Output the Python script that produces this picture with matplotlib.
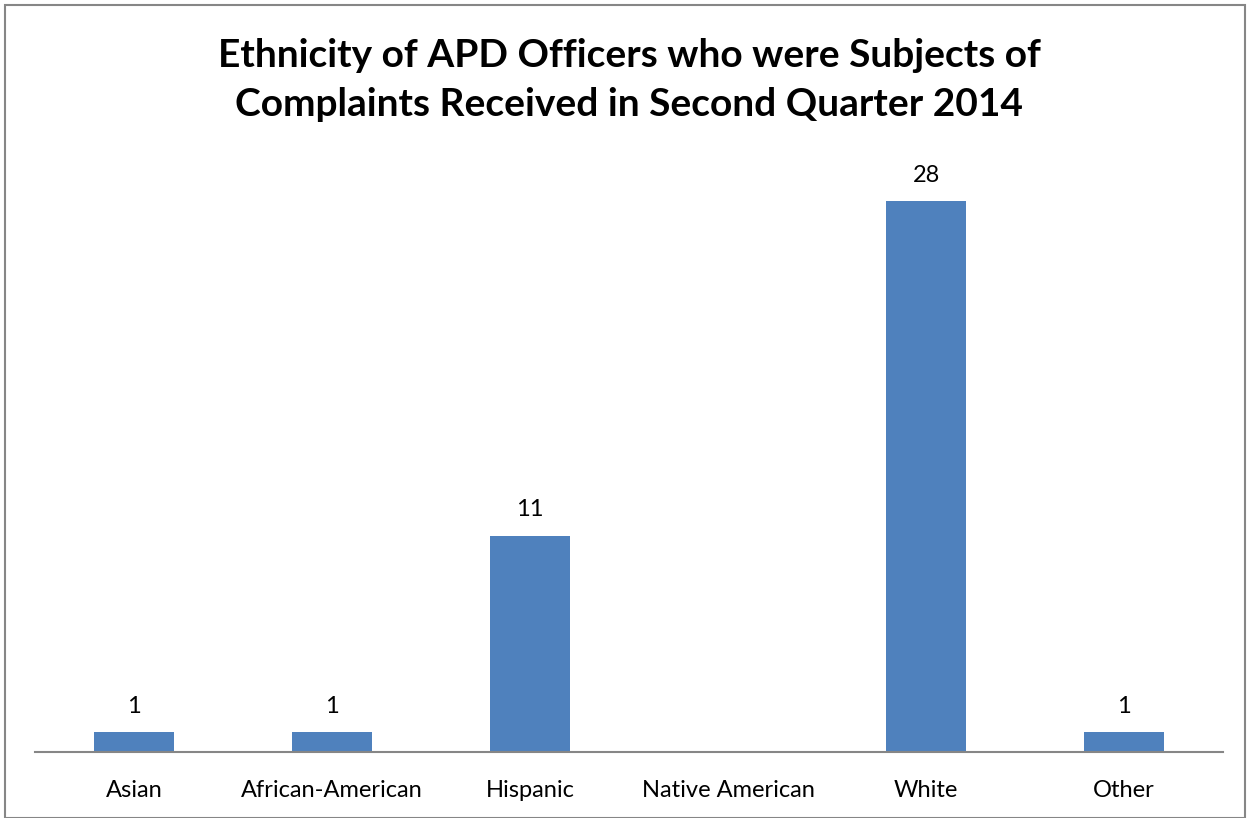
import matplotlib
matplotlib.use("Agg")
import matplotlib.pyplot as plt
from matplotlib.patches import Rectangle

categories = ["Asian", "African-American", "Hispanic", "Native American", "White", "Other"]
values = [1, 1, 11, 0, 28, 1]
title = "Ethnicity of APD Officers who were Subjects of\nComplaints Received in Second Quarter 2014"

plt.rcParams['font.family'] = ['Lato', 'DejaVu Sans']

W, H = 1248, 818
fig = plt.figure(figsize=(W/100, H/100), dpi=100)
ax = fig.add_axes([35/W, 1-752/H, (1223-35)/W, (752-162)/H])

x = list(range(len(categories)))
bars = ax.bar(x, values, width=0.4, color="#4F81BD", zorder=2)
ax.set_xlim(-0.5, len(categories)-0.5)
ax.set_ylim(0, 30)
for xi, v in zip(x, values):
    if v > 0:
        ax.annotate(str(v), (xi, v), xytext=(0, 11), textcoords="offset points",
                    ha="center", va="bottom", fontsize=17, color="black")

ax.set_xticks(x)
ax.set_xticklabels(categories, fontsize=17)
ax.tick_params(axis="x", length=0, pad=20)
ax.set_yticks([])
for s in ["top", "right", "left"]:
    ax.spines[s].set_visible(False)
ax.spines["bottom"].set_color("#868686")
ax.spines["bottom"].set_linewidth(1.5)

fig.text(629/W, 1-80/H, title, ha="center", va="center", fontsize=28, fontweight="bold", linespacing=1.48)

fig.patches.append(Rectangle((5/W, 0), (1245-5)/W, 1-5/H, transform=fig.transFigure,
                             fill=False, edgecolor="#868686", linewidth=1.5))

fig.savefig("out.png", dpi=100)
